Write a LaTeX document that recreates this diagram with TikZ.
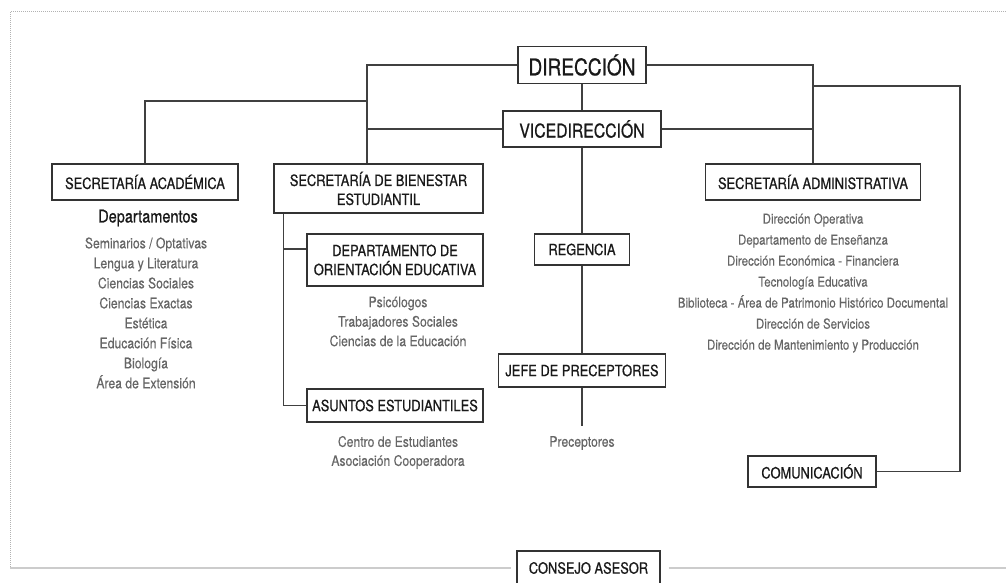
\documentclass[tikz,border=0pt]{standalone}
\usepackage{fontspec}
\newfontfamily\orgfont[FakeStretch=0.83]{TeX Gyre Heros}
\newfontfamily\boxfont[FakeStretch=0.83,FakeBold=0.7]{TeX Gyre Heros}
\newfontfamily\listfont[FakeStretch=0.84,FakeBold=0.25]{TeX Gyre Heros}
\usepackage{tikz}
\usetikzlibrary{calc,positioning}
\tikzset{
	org chart/.style={x=1pt, y=-1pt,
		every node/.style={font=\orgfont}},
	box/.style={draw=black!80, line width=1.3pt, fill=white, inner sep=0pt,
		align=center, text=black!90, font=\boxfont\fontsize{15.5}{19}\selectfont},
	box size/.style 2 args={minimum width=#1, minimum height=#2},
	list/.style={align=center, inner sep=0pt, text=black!60,
		font=\listfont\fontsize{14.5}{#1}\selectfont},
	list/.default=20,
	wire/.style={draw=black!75, line width=1.3pt},
	frame/.style={draw=black!30, line width=1pt}
}

\begin{document}
\begin{tikzpicture}[org chart]
	\useasboundingbox (0,0) rectangle (1006,583);
	% direction
	\node[box, box size={128}{37}, font=\boxfont\fontsize{23}{23}\selectfont] (dir) at (582,65) {DIRECCIÓN};
	\node[box, box size={158}{36}, font=\boxfont\fontsize{19}{19}\selectfont] (vice) at (582,129) {VICEDIRECCIÓN};
	% secretarias
	\node[box, box size={186}{36}] (acad) at (145,182) {SECRETARÍA ACADÉMICA};
	\node[box, box size={209}{49}] (bien) at (378.5,188.5) {SECRETARÍA DE BIENESTAR\\ESTUDIANTIL};
	\node[box, box size={215}{36}] (admin) at (813,182) {SECRETARÍA ADMINISTRATIVA};
	\node[box, box size={176}{52}] (orient) at (395,260) {DEPARTAMENTO DE\\ORIENTACIÓN EDUCATIVA};
	\node[box, box size={176}{33}] (asuntos) at (395,405.5) {ASUNTOS ESTUDIANTILES};
	\node[box, box size={95}{31}] (regencia) at (582,249.5) {REGENCIA};
	\node[box, box size={167}{33}] (jefe) at (582,370.5) {JEFE DE PRECEPTORES};
	\node[box, box size={128}{31}] (comunic) at (812,471.5) {COMUNICACIÓN};
	\node[box, box size={143}{34}] (consejo) at (588.5,568) {CONSEJO ASESOR};
	% texts under the boxes
	\node[inner sep=0pt, text=black!90, font=\boxfont\fontsize{17.5}{17.5}\selectfont] (deptos) at (148,218) {Departamentos};
	\node[list] (deptlist) at (146,313) {Seminarios / Optativas\\Lengua y Literatura\\Ciencias Sociales\\Ciencias Exactas\\Estética\\Educación Física\\Biología\\Área de Extensión};
	\node[list=19.5] (orientlist) at (398,321.5) {Psicólogos\\Trabajadores Sociales\\Ciencias de la Educación};
	\node[list=19] (asuntoslist) at (398,452.5) {Centro de Estudiantes\\Asociación Cooperadora};
	\node[list] (precept) at (582,443) {Preceptores};
	\node[list=21, font=\listfont\fontsize{13.7}{21}\selectfont] (adminlist) at (813,283) {Dirección Operativa\\Departamento de Enseñanza\\Dirección Económica - Financiera\\Tecnología Educativa\\Biblioteca - Área de Patrimonio Histórico Documental\\Dirección de Servicios\\Dirección de Mantenimiento y Producción};
	% junctions
	\coordinate (lj) at (367,101);
	\coordinate (rk) at (960,86);
	% connectors
	\draw[wire] (dir.west) -| (lj |- bien.north);
	\draw[wire] (vice.west) -- (vice.west -| lj);
	\draw[wire] (acad.north) |- (lj);
	\draw[wire] (dir.east) -| (admin.north);
	\draw[wire] (vice.east) -- (vice.east -| admin.north);
	\draw[wire] (rk -| admin.north) -- (rk) |- (comunic.east);
	\draw[wire] (dir.south) -- (vice.north);
	\draw[wire] (vice.south) -- (regencia.north);
	\draw[wire] (regencia.south) -- (jefe.north);
	\draw[wire] (jefe.south) -- ([yshift=10pt]precept.north);
	\draw[wire] ([xshift=10pt]bien.south west) |- (asuntos.west);
	\draw[wire] ([xshift=10pt,yshift=11pt]bien.south west |- orient.west) -- ([yshift=11pt]orient.west);
	% frame
	\draw[frame, densely dotted] (1006,12) -- (10,12) -- (10,568);
	\draw[frame, line width=1.5pt, draw=black!20] (10,568) -- ([xshift=-5pt]consejo.west);
	\draw[frame, line width=1.5pt, draw=black!20] ([xshift=8pt]consejo.east) -- (1006,568);
\end{tikzpicture}
\end{document}
